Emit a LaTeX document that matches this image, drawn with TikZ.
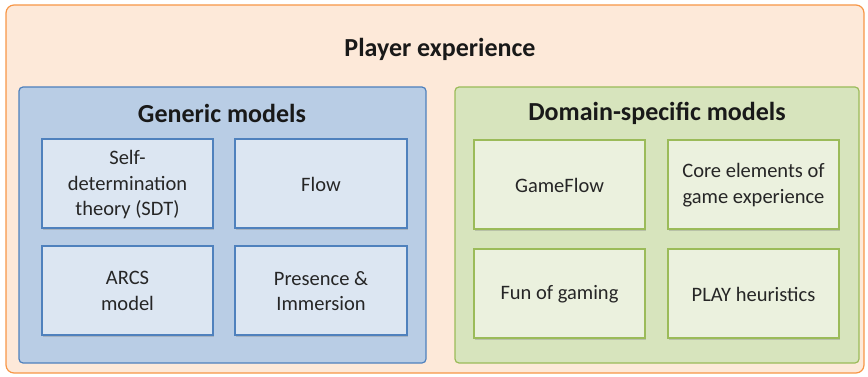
\documentclass[tikz,border=0pt]{standalone}
\usepackage{fontspec}
\setmainfont{Carlito}
\usetikzlibrary{shadows}
\definecolor{outerfill}{HTML}{FDE9D9}
\definecolor{outerline}{HTML}{F79646}
\definecolor{bluefill}{HTML}{B9CDE5}
\definecolor{blueline}{HTML}{4F81BD}
\definecolor{blueinner}{HTML}{DCE6F2}
\definecolor{greenfill}{HTML}{D7E4BD}
\definecolor{greenline}{HTML}{9BBB59}
\definecolor{greeninner}{HTML}{EBF1DE}
\tikzset{
  px/.style={x=1pt,y=-1pt},
  outerbox/.style={draw=outerline,fill=outerfill,line width=1.2pt,rounded corners=8pt},
  bluegroup/.style={draw=blueline,fill=bluefill,line width=1.2pt,rounded corners=4pt},
  greengroup/.style={draw=greenline,fill=greenfill,line width=1.2pt,rounded corners=4pt},
  bluebox/.style={draw=blueline,fill=blueinner,line width=1.2pt,drop shadow={shadow xshift=1pt,shadow yshift=-2pt,opacity=0.35}},
  greenbox/.style={draw=greenline,fill=greeninner,line width=1.2pt,drop shadow={shadow xshift=1pt,shadow yshift=-2pt,opacity=0.35}},
  boxtext/.style={font=\fontsize{20.5}{25.5}\selectfont,align=center,text=black!85},
  title/.style={font=\bfseries\fontsize{26}{30}\selectfont,text=black!90}
}
\begin{document}
\begin{tikzpicture}[px]
\useasboundingbox (0,0) rectangle (868,377);
\draw[outerbox] (6,5) rectangle (864,373);
\node[title] (pe) at (440,49) {Player experience};
\draw[bluegroup] (19,87) rectangle (426,363);
\node[title] (gm) at (222,113) {Generic models};
\draw[greengroup] (455,87) rectangle (859,363);
\node[title] (dm) at (657,113) {Domain-specific models};
% blue inner boxes
\draw[bluebox] (42,139) rectangle (213,228);
\node[boxtext] (sdt) at (127.5,185) {Self-\\determination\\theory (SDT)};
\draw[bluebox] (235,139) rectangle (407,228);
\node[boxtext] (flow) at (321,184) {Flow};
\draw[bluebox] (42,246) rectangle (213,335);
\node[boxtext] (arcs) at (127.5,291) {ARCS\\model};
\draw[bluebox] (235,246) rectangle (407,335);
\node[boxtext] (pi) at (321,291) {Presence \&\\Immersion};
% green inner boxes
\draw[greenbox] (474,140) rectangle (645,229);
\node[boxtext] (gf) at (559.5,185) {GameFlow};
\draw[greenbox] (668,140) rectangle (839,229);
\node[boxtext] (ce) at (753.5,185) {Core elements of\\game experience};
\draw[greenbox] (474,249) rectangle (645,338);
\node[boxtext] (fg) at (559.5,294) {Fun of gaming};
\draw[greenbox] (668,249) rectangle (839,338);
\node[boxtext] (ph) at (753.5,294) {PLAY heuristics};
\end{tikzpicture}
\end{document}
